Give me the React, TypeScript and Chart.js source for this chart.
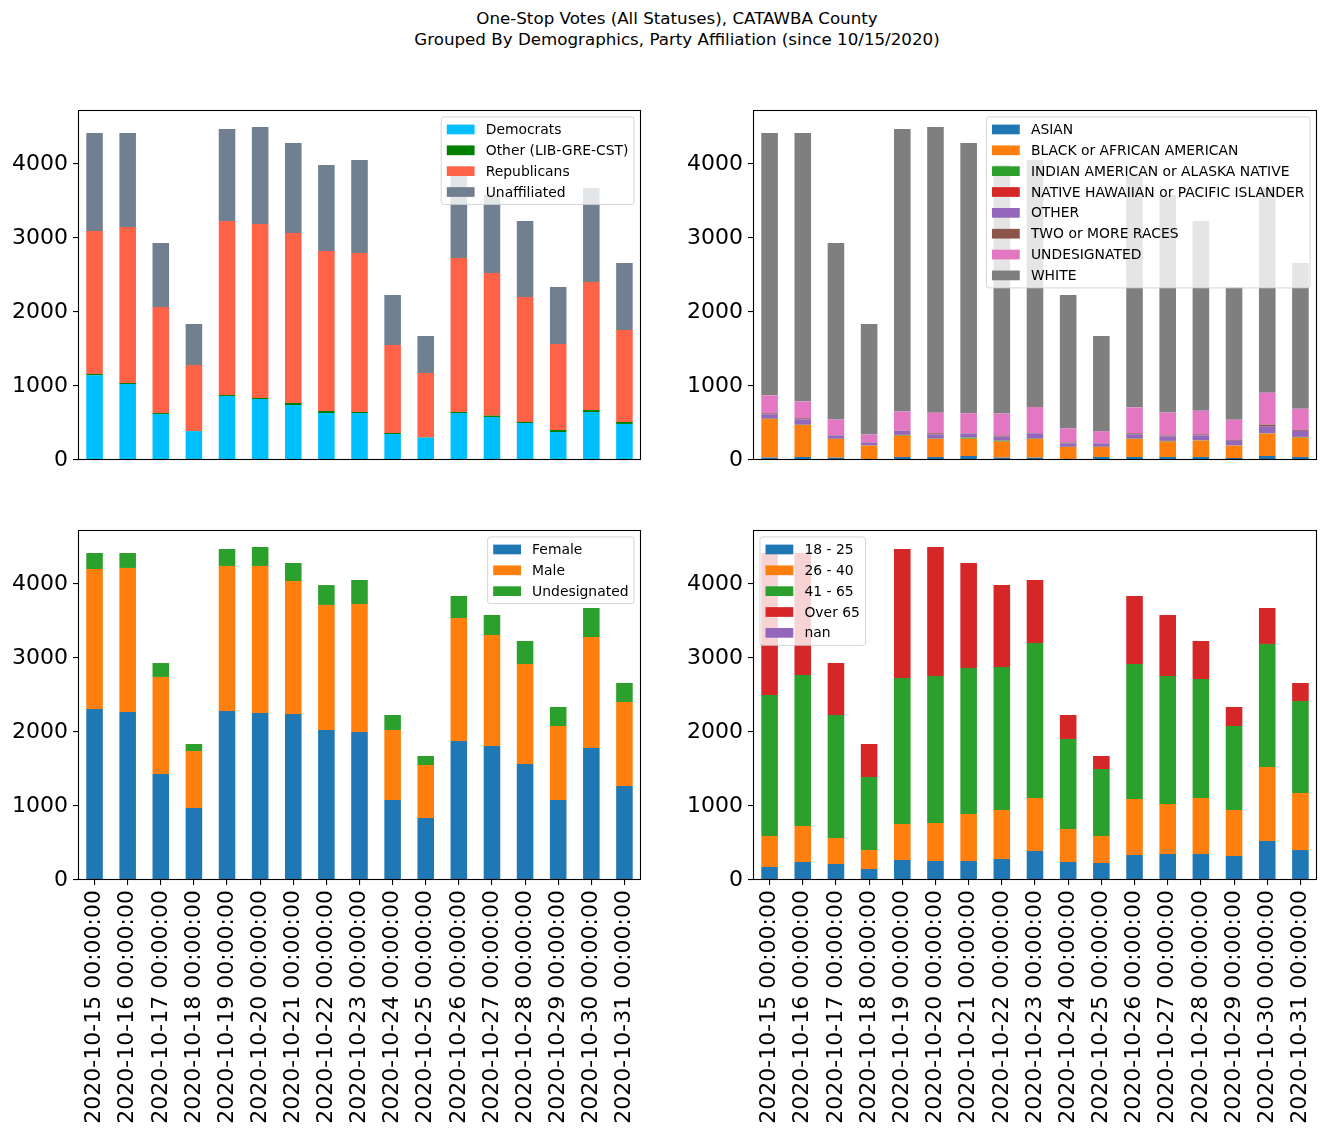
import React, { useEffect, useRef } from 'react';
import { Chart, registerables } from 'chart.js';
Chart.register(...registerables);

const dates = [
  '2020-10-15 00:00:00', '2020-10-16 00:00:00', '2020-10-17 00:00:00', '2020-10-18 00:00:00',
  '2020-10-19 00:00:00', '2020-10-20 00:00:00', '2020-10-21 00:00:00', '2020-10-22 00:00:00',
  '2020-10-23 00:00:00', '2020-10-24 00:00:00', '2020-10-25 00:00:00', '2020-10-26 00:00:00',
  '2020-10-27 00:00:00', '2020-10-28 00:00:00', '2020-10-29 00:00:00', '2020-10-30 00:00:00',
  '2020-10-31 00:00:00',
];

const yTicks = [0, 1000, 2000, 3000, 4000];
const yMax = 4730;

// Party affiliation
const democrats = [1144, 1027, 622, 390, 865, 824, 743, 635, 635, 351, 302, 635, 581, 500, 378, 649, 487];
const otherParty = [18, 14, 13, 3, 13, 14, 27, 27, 14, 14, 3, 14, 18, 14, 27, 27, 27];
const republicans = [1933, 2108, 1433, 891, 2352, 2351, 2298, 2162, 2148, 1189, 871, 2081, 1928, 1689, 1163, 1729, 1243];
const unaffiliated = [1324, 1270, 864, 554, 1243, 1311, 1216, 1162, 1257, 676, 500, 1108, 1054, 1027, 770, 1271, 905];

// Race
const asian = [32, 40, 32, 14, 40, 40, 54, 32, 32, 14, 40, 40, 40, 40, 27, 54, 40];
const black = [522, 433, 252, 180, 289, 244, 234, 216, 252, 162, 136, 244, 208, 221, 167, 302, 262];
const indian = [3, 3, 2, 2, 9, 3, 14, 13, 3, 2, 2, 3, 9, 3, 2, 3, 9];
const hawaiian = [2, 2, 1, 1, 2, 2, 2, 2, 2, 1, 1, 2, 2, 2, 1, 2, 2];
const otherRace = [59, 72, 45, 40, 54, 58, 54, 54, 72, 45, 45, 58, 58, 68, 63, 90, 81];
const twoOrMore = [13, 14, 4, 3, 4, 14, 4, 14, 4, 13, 4, 14, 14, 13, 13, 27, 13];
const undesignatedRace = [243, 225, 212, 104, 257, 279, 270, 297, 351, 189, 162, 351, 311, 320, 271, 432, 284];
const white = [3545, 3630, 2384, 1494, 3818, 3860, 3652, 3358, 3338, 1804, 1286, 3126, 2939, 2563, 1794, 2766, 1971];

// Gender
const female = [2311, 2271, 1433, 973, 2284, 2257, 2243, 2027, 2000, 1081, 838, 1879, 1811, 1568, 1081, 1784, 1270];
const male = [1892, 1946, 1311, 770, 1960, 1987, 1798, 1690, 1730, 946, 716, 1662, 1500, 1351, 1000, 1500, 1136];
const undesignatedGender = [216, 202, 188, 95, 229, 256, 243, 269, 324, 203, 122, 297, 270, 311, 257, 392, 256];

// Age
const age18to25 = [176, 243, 216, 149, 270, 257, 257, 284, 392, 243, 230, 338, 351, 351, 324, 527, 405];
const age26to40 = [419, 487, 352, 256, 487, 513, 635, 662, 716, 446, 365, 757, 676, 757, 622, 1000, 771];
const age41to65 = [1905, 2041, 1662, 987, 1973, 1987, 1973, 1933, 2095, 1217, 905, 1824, 1730, 1608, 1135, 1663, 1243];
const ageOver65 = [1919, 1648, 702, 446, 1743, 1743, 1419, 1107, 851, 324, 176, 919, 824, 514, 257, 486, 243];
const ageNan = [0, 0, 0, 0, 0, 0, 0, 0, 0, 0, 0, 0, 0, 0, 0, 0, 0];

const tab = ['#1f77b4', '#ff7f0e', '#2ca02c', '#d62728', '#9467bd', '#8c564b', '#e377c2', '#7f7f7f'];

type Series = { label: string; data: number[]; color: string };

const panels: {
  left: number; top: number; width: number; height: number; padRight: number; showX: boolean;
  legendLoc: 'left' | 'right'; series: Series[];
}[] = [
  {
    left: 0, top: 100, width: 660, height: 370, padRight: 19, showX: false, legendLoc: 'right',
    series: [
      { label: 'Democrats', data: democrats, color: '#00bfff' },
      { label: 'Other (LIB-GRE-CST)', data: otherParty, color: '#008000' },
      { label: 'Republicans', data: republicans, color: '#ff6347' },
      { label: 'Unaffiliated', data: unaffiliated, color: '#708090' },
    ],
  },
  {
    left: 675, top: 100, width: 651, height: 370, padRight: 9, showX: false, legendLoc: 'right',
    series: [
      { label: 'ASIAN', data: asian, color: tab[0] },
      { label: 'BLACK or AFRICAN AMERICAN', data: black, color: tab[1] },
      { label: 'INDIAN AMERICAN or ALASKA NATIVE', data: indian, color: tab[2] },
      { label: 'NATIVE HAWAIIAN or PACIFIC ISLANDER', data: hawaiian, color: tab[3] },
      { label: 'OTHER', data: otherRace, color: tab[4] },
      { label: 'TWO or MORE RACES', data: twoOrMore, color: tab[5] },
      { label: 'UNDESIGNATED', data: undesignatedRace, color: tab[6] },
      { label: 'WHITE', data: white, color: tab[7] },
    ],
  },
  {
    left: 0, top: 520, width: 660, height: 617, padRight: 19, showX: true, legendLoc: 'right',
    series: [
      { label: 'Female', data: female, color: tab[0] },
      { label: 'Male', data: male, color: tab[1] },
      { label: 'Undesignated', data: undesignatedGender, color: tab[2] },
    ],
  },
  {
    left: 675, top: 520, width: 651, height: 617, padRight: 9, showX: true, legendLoc: 'left',
    series: [
      { label: '18 - 25', data: age18to25, color: tab[0] },
      { label: '26 - 40', data: age26to40, color: tab[1] },
      { label: '41 - 65', data: age41to65, color: tab[2] },
      { label: 'Over 65', data: ageOver65, color: tab[3] },
      { label: 'nan', data: ageNan, color: tab[4] },
    ],
  },
];

const FONT = '"DejaVu Sans", "Liberation Sans", sans-serif';

const framePlugin = {
  id: 'mplFrame',
  afterDatasetsDraw(chart: any, _args: any, opts: any) {
    const { ctx, chartArea: a } = chart;
    ctx.save();
    ctx.strokeStyle = '#000';
    ctx.lineWidth = 1.1;
    const l = Math.round(a.left) + 0.5, t = Math.round(a.top) + 0.5;
    const r = Math.round(a.right) - 0.5, b = Math.round(a.bottom) - 0.5;
    ctx.strokeRect(l, t, r - l, b - t);

    const items: Series[] = opts.items || [];
    const fs = 13.9;
    ctx.font = `${fs}px ${FONT}`;
    const tw = Math.max(...items.map((i) => ctx.measureText(i.label).width));
    const bp = 0.4 * fs, hl = 2 * fs, htp = 0.8 * fs, ls = 0.5 * fs, bap = 0.5 * fs;
    const w = 2 * bp + hl + htp + tw;
    const h = 2 * bp + items.length * fs + (items.length - 1) * ls;
    const x = opts.loc === 'left' ? a.left + bap : a.right - bap - w;
    const y = a.top + bap;
    const rad = 0.2 * fs;
    ctx.beginPath();
    ctx.moveTo(x + rad, y);
    ctx.lineTo(x + w - rad, y);
    ctx.quadraticCurveTo(x + w, y, x + w, y + rad);
    ctx.lineTo(x + w, y + h - rad);
    ctx.quadraticCurveTo(x + w, y + h, x + w - rad, y + h);
    ctx.lineTo(x + rad, y + h);
    ctx.quadraticCurveTo(x, y + h, x, y + h - rad);
    ctx.lineTo(x, y + rad);
    ctx.quadraticCurveTo(x, y, x + rad, y);
    ctx.closePath();
    ctx.fillStyle = 'rgba(255,255,255,0.8)';
    ctx.fill();
    ctx.strokeStyle = 'rgba(204,204,204,0.8)';
    ctx.lineWidth = 1;
    ctx.stroke();
    items.forEach((it, i) => {
      const cy = y + bp + i * (fs + ls) + fs / 2;
      ctx.fillStyle = it.color;
      ctx.fillRect(x + bp, cy - 0.35 * fs, hl, 0.7 * fs);
      ctx.fillStyle = '#000';
      ctx.textBaseline = 'middle';
      ctx.textAlign = 'left';
      ctx.fillText(it.label, x + bp + hl + htp, cy + 1);
    });
    ctx.restore();
  },
};

function Panel({ p }: { p: (typeof panels)[number] }) {
  const ref = useRef<HTMLCanvasElement>(null);
  useEffect(() => {
    if (!ref.current) return;
    const xAxisHeight = p.showX ? p.height - 10 - 350 : 0;
    const chart = new Chart(ref.current, {
      type: 'bar',
      data: {
        labels: dates,
        datasets: p.series.map((s) => ({
          label: s.label,
          data: s.data,
          backgroundColor: s.color,
          borderWidth: 0,
          barPercentage: 0.5,
          categoryPercentage: 1.0,
        })),
      },
      options: {
        responsive: false,
        animation: false,
        devicePixelRatio: 1,
        layout: { padding: { top: 10, right: p.padRight, bottom: p.showX ? 0 : 10, left: 0 } },
        plugins: {
          legend: { display: false },
          tooltip: { enabled: false },
          mplFrame: { items: p.series, loc: p.legendLoc },
        } as any,
        scales: {
          x: {
            stacked: true,
            display: p.showX,
            offset: true,
            border: { display: false },
            grid: { display: true, drawOnChartArea: false, drawTicks: true, tickLength: 5, color: '#000', lineWidth: 1.1, offset: false },
            ticks: {
              autoSkip: false,
              minRotation: 90,
              maxRotation: 90,
              padding: 5,
              color: '#000',
              font: { family: FONT, size: 22 },
            },
            afterFit: (s: any) => {
              s.height = xAxisHeight;
              s.paddingLeft = 0;
              s.paddingRight = 0;
            },
          },
          y: {
            stacked: true,
            min: 0,
            max: yMax,
            border: { display: false },
            grid: { display: true, drawOnChartArea: false, drawTicks: true, tickLength: 5, color: '#000', lineWidth: 1.1 },
            ticks: {
              stepSize: 1000,
              padding: 5,
              color: '#000',
              font: { family: FONT, size: 22 },
              callback: (v: any) => String(v),
            },
            afterBuildTicks: (s: any) => {
              s.ticks = yTicks.map((v) => ({ value: v }));
            },
            afterFit: (s: any) => {
              s.width = 78;
              s.paddingTop = 0;
              s.paddingBottom = 0;
            },
          },
        },
      },
      plugins: [framePlugin],
    });
    return () => chart.destroy();
  }, []);
  return (
    <canvas
      ref={ref}
      width={p.width}
      height={p.height}
      style={{ position: 'absolute', left: p.left, top: p.top, width: p.width, height: p.height }}
    />
  );
}

export default function App() {
  const titleStyle: React.CSSProperties = {
    position: 'absolute', left: 0, width: 1354, textAlign: 'center',
    fontFamily: FONT, fontSize: 16.7, color: '#000', lineHeight: '20px', whiteSpace: 'nowrap',
  };
  return (
    <div style={{ position: 'absolute', left: 0, top: 0, width: 1326, height: 1137, background: '#fff', overflow: 'hidden' }}>
      <div style={{ ...titleStyle, top: 8 }}>One-Stop Votes (All Statuses), CATAWBA County</div>
      <div style={{ ...titleStyle, top: 29 }}>Grouped By Demographics, Party Affiliation (since 10/15/2020)</div>
      {panels.map((p, i) => (
        <Panel key={i} p={p} />
      ))}
    </div>
  );
}
